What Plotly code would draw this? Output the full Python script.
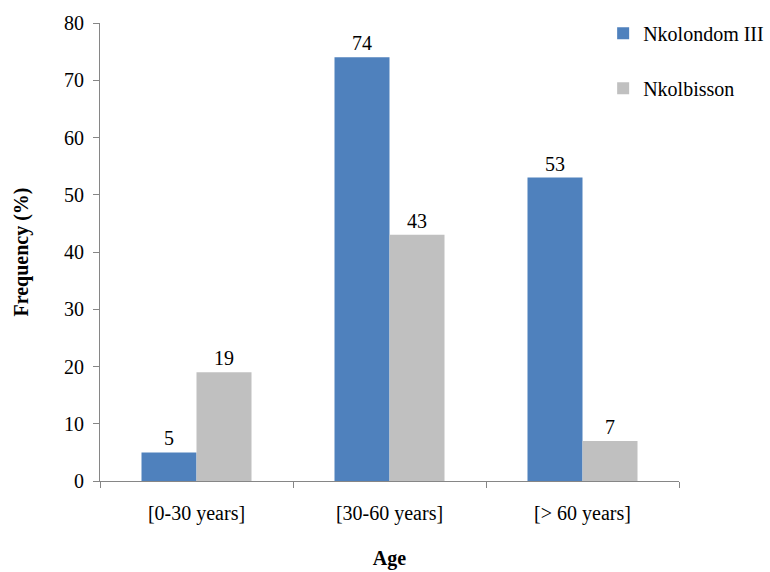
import plotly.graph_objects as go

# Age groups and frequency (%) per site
age_groups = ["[0-30 years]", "[30-60 years]", "[> 60 years]"]
nkolondom = [5, 74, 53]
nkolbisson = [19, 43, 7]

FONT = "Liberation Serif"
AXIS_GRAY = "#868686"
FS = 20

fig = go.Figure()
fig.add_trace(go.Bar(
    x=age_groups, y=nkolondom, name="Nkolondom III",
    marker=dict(color="#4F81BD", line=dict(width=0)),
    text=nkolondom, textposition="outside", texttemplate="%{y}",
    textfont=dict(family=FONT, size=FS, color="black"),
    cliponaxis=False, legendgroup="a",
))
fig.add_trace(go.Bar(
    x=age_groups, y=nkolbisson, name="Nkolbisson",
    marker=dict(color="#C0C0C0", line=dict(width=0)),
    text=nkolbisson, textposition="outside", texttemplate="%{y}",
    textfont=dict(family=FONT, size=FS, color="black"),
    cliponaxis=False, legendgroup="b",
))

fig.update_layout(
    width=770, height=572,
    margin=dict(l=100, r=91, t=23, b=91, autoexpand=False),
    paper_bgcolor="white", plot_bgcolor="white",
    barmode="group", bargap=0.43, bargroupgap=0,
    font=dict(family=FONT, size=FS, color="black"),
    showlegend=True,
    legend=dict(
        x=0.869, xanchor="left", y=1.02, yanchor="top",
        font=dict(family=FONT, size=FS, color="black"),
        tracegroupgap=26, itemwidth=30,
        bgcolor="rgba(0,0,0,0)",
    ),
)

fig.update_xaxes(
    showline=True, linecolor=AXIS_GRAY, linewidth=1,
    ticks="outside", tickson="boundaries", ticklen=6, tickcolor=AXIS_GRAY,
    ticklabelstandoff=14,
    showgrid=False, zeroline=False,
    tickfont=dict(family=FONT, size=FS, color="black"),
    title=dict(text="<b>Age</b>", font=dict(family=FONT, size=FS, color="black"), standoff=26),
)
fig.update_yaxes(
    range=[0, 80], dtick=10,
    showline=True, linecolor=AXIS_GRAY, linewidth=1,
    ticks="outside", ticklen=6, tickcolor=AXIS_GRAY,
    ticklabelstandoff=5,
    showgrid=False, zeroline=False,
    tickfont=dict(family=FONT, size=FS, color="black"),
    title=dict(text="<b>Frequency (%)</b>", font=dict(family=FONT, size=FS, color="black"), standoff=30),
)

fig.write_html("out.html")
